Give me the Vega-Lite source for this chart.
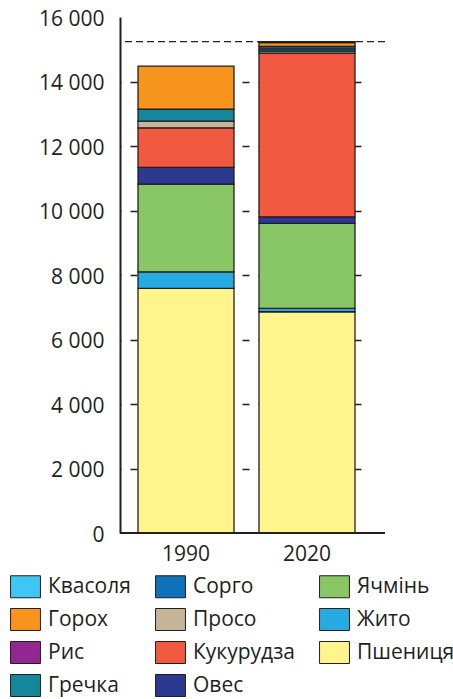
{
  "$schema": "https://vega.github.io/schema/vega-lite/v6.json",
  "width": 265,
  "height": 516,
  "autosize": {"type": "none"},
  "padding": {"left": 120, "top": 17, "right": 68, "bottom": 166},
  "config": {
    "view": {"stroke": null},
    "font": "Open Sans",
    "locale": {"number": {"decimal": ",", "thousands": " ", "grouping": [3], "currency": ["", ""]}}
  },
  "data": {
    "values": [
      {"year": "1990", "crop": "Пшениця", "value": 7586},
      {"year": "1990", "crop": "Жито", "value": 514},
      {"year": "1990", "crop": "Ячмінь", "value": 2719},
      {"year": "1990", "crop": "Овес", "value": 518},
      {"year": "1990", "crop": "Кукурудза", "value": 1228},
      {"year": "1990", "crop": "Просо", "value": 207},
      {"year": "1990", "crop": "Гречка", "value": 372},
      {"year": "1990", "crop": "Горох", "value": 1333},
      {"year": "2020", "crop": "Пшениця", "value": 6860},
      {"year": "2020", "crop": "Жито", "value": 106},
      {"year": "2020", "crop": "Ячмінь", "value": 2635},
      {"year": "2020", "crop": "Овес", "value": 204},
      {"year": "2020", "crop": "Кукурудза", "value": 5075},
      {"year": "2020", "crop": "Просо", "value": 60},
      {"year": "2020", "crop": "Сорго", "value": 70},
      {"year": "2020", "crop": "Гречка", "value": 70},
      {"year": "2020", "crop": "Рис", "value": 10},
      {"year": "2020", "crop": "Горох", "value": 120},
      {"year": "2020", "crop": "Квасоля", "value": 25}
    ]
  },
  "layer": [
    {
      "transform": [
        {"calculate": "indexof(['Пшениця','Жито','Ячмінь','Овес','Кукурудза','Просо','Сорго','Гречка','Рис','Горох','Квасоля'], datum.crop)", "as": "stackorder"}
      ],
      "mark": {"type": "bar", "stroke": "#231f20", "strokeWidth": 1.3},
      "encoding": {
        "x": {
          "field": "year",
          "type": "nominal",
          "scale": {"range": [0, 253], "paddingInner": 0.2066, "paddingOuter": 0.1488},
          "axis": {"title": null, "domain": false, "ticks": false, "labelAngle": 0, "labelFontSize": 21, "labelColor": "#231f20", "labelPadding": 10}
        },
        "y": {
          "field": "value",
          "type": "quantitative",
          "stack": "zero",
          "scale": {"domain": [0, 16000], "nice": false},
          "axis": {
            "title": null,
            "values": [0, 2000, 4000, 6000, 8000, 10000, 12000, 14000, 16000],
            "domainColor": "#231f20",
            "domainWidth": 2,
            "ticks": false,
            "labelPadding": 16,
            "labelOffset": 2,
            "labelFontSize": 21,
            "labelColor": "#231f20",
            "grid": true,
            "gridColor": "#231f20",
            "gridDash": [1, 9, 7, 105, 7, 9, 7, 89, 7, 100],
            "gridWidth": 1.3,
            "gridOpacity": {"condition": {"test": "datum.value >= 16000 || datum.value <= 0", "value": 0}, "value": 1}
          }
        },
        "color": {
          "field": "crop",
          "type": "nominal",
          "scale": {
            "domain": ["Квасоля", "Горох", "Рис", "Гречка", "Сорго", "Просо", "Кукурудза", "Овес", "Ячмінь", "Жито", "Пшениця"],
            "range": ["#3fc6f4", "#f7941d", "#92278f", "#16879a", "#0f72ba", "#c7b59a", "#f15a40", "#2b3990", "#89c665", "#27aae1", "#fff58c"]
          },
          "legend": {
            "title": null,
            "orient": "none",
            "legendX": -106,
            "legendY": 558,
            "columns": 3,
            "columnPadding": 22,
            "rowPadding": 6,
            "padding": 0,
            "symbolType": "M-1.36,-1H1.36V1H-1.36Z",
            "symbolSize": 484,
            "symbolStrokeColor": "#231f20",
            "symbolStrokeWidth": 1,
            "symbolOpacity": 1,
            "labelFontSize": 21,
            "labelColor": "#231f20",
            "labelOffset": 11
          }
        },
        "order": {"field": "stackorder", "type": "quantitative"}
      }
    },
    {
      "transform": [
        {"filter": "datum.year == '2020'"},
        {"aggregate": [{"op": "sum", "field": "value", "as": "total"}]}
      ],
      "mark": {"type": "rule", "strokeDash": [7, 4], "stroke": "#231f20", "strokeWidth": 1.3},
      "encoding": {"y": {"field": "total", "type": "quantitative"}}
    },
    {
      "transform": [{"aggregate": [{"op": "count", "as": "n"}]}],
      "mark": {"type": "rule", "stroke": "#231f20", "strokeWidth": 2},
      "encoding": {"y": {"datum": 0}}
    }
  ]
}
